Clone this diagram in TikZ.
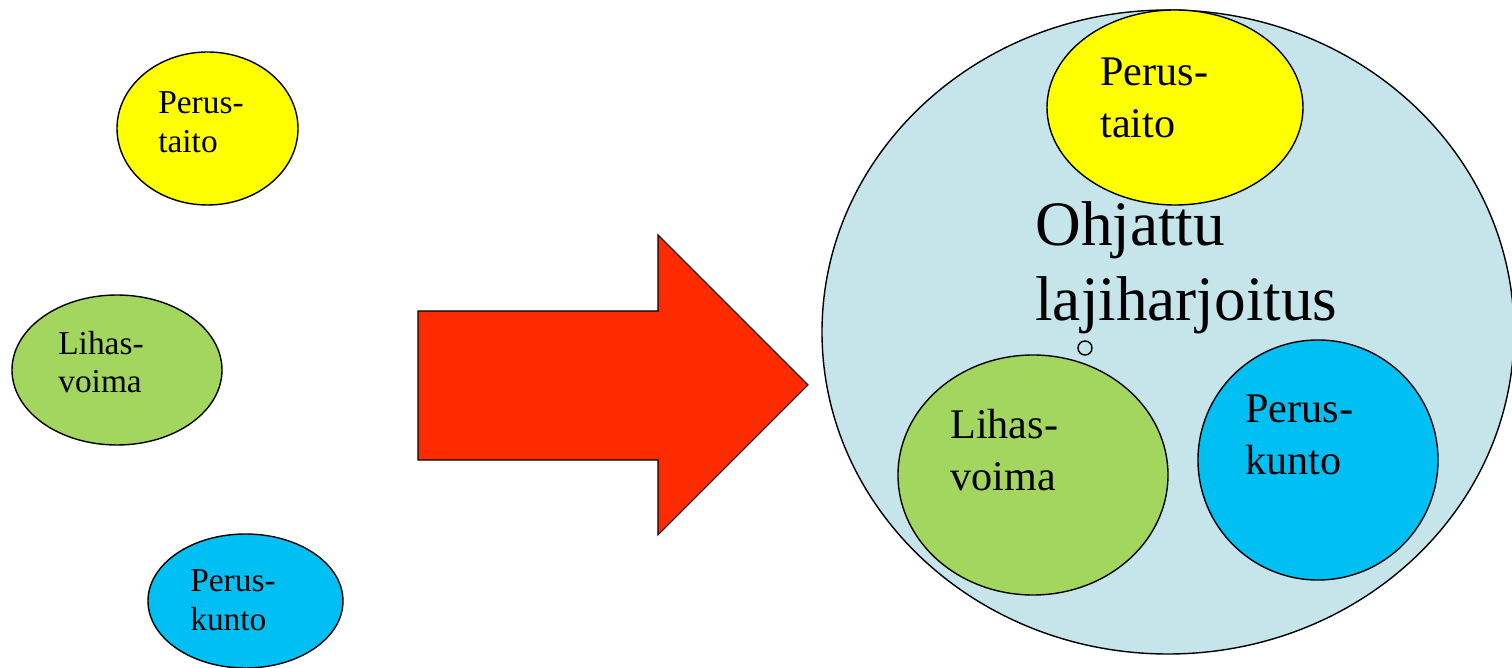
\documentclass[tikz,border=0pt]{standalone}
\usepackage{fontspec}
\setmainfont{Liberation Serif}

\definecolor{keltainen}{HTML}{FFFF00}
\definecolor{vihrea}{HTML}{A3D65F}
\definecolor{sininen}{HTML}{00BFF3}
\definecolor{vaalea}{HTML}{C6E5EA}
\definecolor{punainen}{HTML}{FF2B00}

\begin{document}
\begin{tikzpicture}[x=0.02cm,y=-0.02cm,
  reuna/.style={draw=black,line width=0.8pt},
  teksti/.style={anchor=west,align=left,inner sep=0pt},
  pieni/.style={font=\fontsize{19}{22}\selectfont},
  keski/.style={font=\fontsize{24}{30}\selectfont},
  iso/.style={font=\fontsize{36}{43}\selectfont}]

  \useasboundingbox (0,0) rectangle (1512,668);

  % Erilliset osat vasemmalla
  \filldraw[reuna,fill=keltainen] (207.5,128.5) ellipse [x radius=90.5, y radius=76.5];
  \node[teksti,pieni] (taitoA) at (158,122) {Perus-\\taito};

  \filldraw[reuna,fill=vihrea] (117,370) ellipse [x radius=105, y radius=75];
  \node[teksti,pieni] (voimaA) at (58,362) {Lihas-\\voima};

  \filldraw[reuna,fill=sininen] (245.5,601) ellipse [x radius=97.5, y radius=67];
  \node[teksti,pieni] (kuntoA) at (190,600) {Perus-\\kunto};

  % Nuoli
  \filldraw[reuna,fill=punainen,line width=0.6pt]
    (418,311) -- (658,311) -- (658,235) -- (808,385)
    -- (658,535) -- (658,460) -- (418,460) -- cycle;

  % Iso pallo: kaikki yhdessä
  \filldraw[reuna,fill=vaalea] (1168,332) ellipse [x radius=346, y radius=322];

  \filldraw[reuna,fill=keltainen] (1175,107.5) ellipse [x radius=128, y radius=97.5];
  \node[teksti,keski] (taitoB) at (1100,98) {Perus-\\taito};

  \filldraw[reuna,fill=vihrea] (1033,475) ellipse [x radius=135, y radius=120];
  \node[teksti,keski] (voimaB) at (950,450) {Lihas-\\voima};

  \filldraw[reuna,fill=sininen] (1318,460) ellipse [x radius=120, y radius=120];
  \node[teksti,keski] (kuntoB) at (1245,435) {Perus-\\kunto};

  \node[teksti,iso] (laji) at (1035,268) {Ohjattu\\lajiharjoitus};
  \draw[line width=0.8pt] (1085,348) circle [radius=7];

\end{tikzpicture}
\end{document}
